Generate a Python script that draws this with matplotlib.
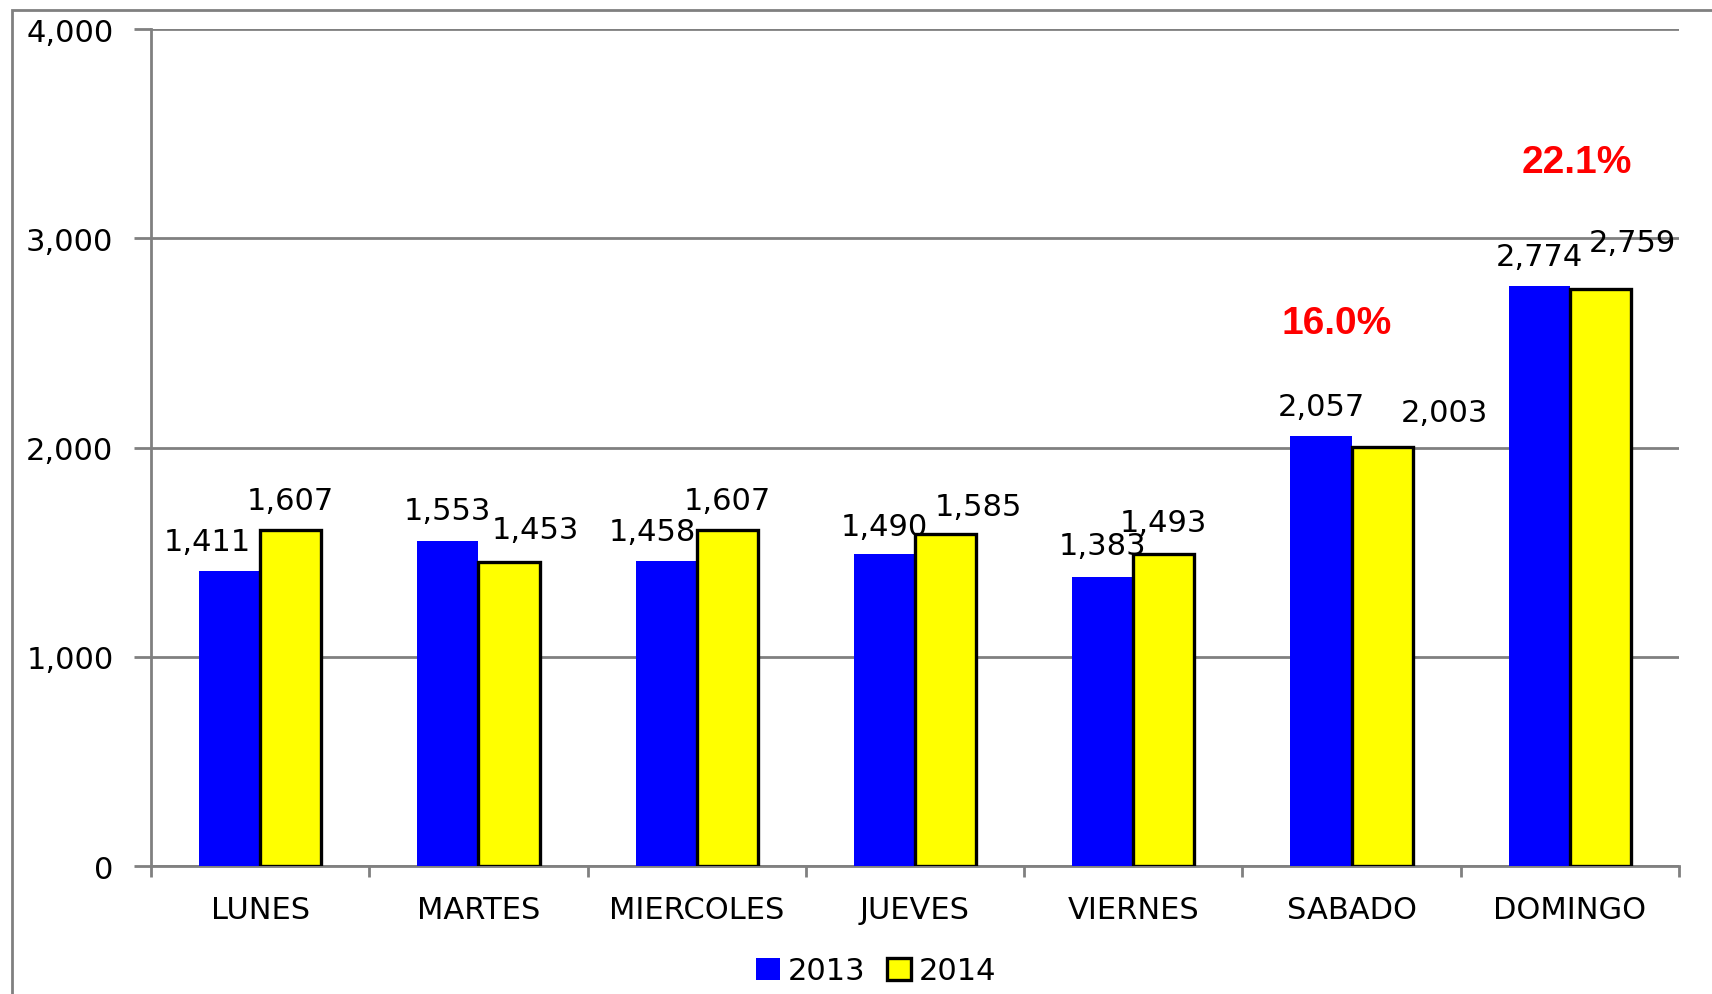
import matplotlib.pyplot as plt
import matplotlib.ticker as mticker
from matplotlib.patches import Rectangle
import numpy as np

days = ['LUNES', 'MARTES', 'MIERCOLES', 'JUEVES', 'VIERNES', 'SABADO', 'DOMINGO']
v2013 = [1411, 1553, 1458, 1490, 1383, 2057, 2774]
v2014 = [1607, 1453, 1607, 1585, 1493, 2003, 2759]
growth_days = ['SABADO', 'DOMINGO']
growth_text = ['16.0%', '22.1%']

# label nudges in points (excel placed some labels off-center)
dx13 = [-16, 0, -10, 0, 0, 0, 0]
dy13 = [15, 16, 15, 14, 16, 15, 15]
dx14 = [0, 19, 0, 24, 0, 45, 23]
dy14 = [15, 17, 15, 14, 16, 19, 27]
# where the red growth labels sit (x shift in categories, y in data units)
growth_dx = [-0.07, 0.03]
growth_y = [2595, 3364]

plt.rcParams['font.family'] = 'DejaVu Sans'
fig = plt.figure(figsize=(17.12, 9.95), dpi=100)
ax = fig.add_axes([0.0882, 0.1286, 0.8925, 0.8412])

x = np.arange(len(days)) + 0.5
w = 0.28
b1 = ax.bar(x - w / 2, v2013, w, color='#0000FF', label='2013', zorder=3)
b2 = ax.bar(x + w / 2, v2014, w, color='#FFFF00', edgecolor='black', linewidth=2.4, label='2014', zorder=3)

for i in range(len(days)):
    ax.annotate(f'{v2013[i]:,}', (x[i] - w / 2, v2013[i]), xytext=(dx13[i], dy13[i]),
                textcoords='offset points', ha='center', va='baseline', fontsize=22)
    ax.annotate(f'{v2014[i]:,}', (x[i] + w / 2, v2014[i]), xytext=(dx14[i], dy14[i]),
                textcoords='offset points', ha='center', va='baseline', fontsize=22)

for d, t, gdx, gy in zip(growth_days, growth_text, growth_dx, growth_y):
    i = days.index(d)
    ax.text(x[i] + gdx, gy, t, color='#FF0000', fontsize=28,
            fontweight='bold', family='Liberation Sans', ha='center', va='center')

ax.set_xlim(0, len(days))
ax.set_ylim(0, 4000)
ax.set_yticks([0, 1000, 2000, 3000, 4000])
ax.yaxis.set_major_formatter(mticker.FuncFormatter(lambda v, p: f'{int(v):,}'))
ax.grid(axis='y', color='#808080', linewidth=2, zorder=0)
ax.set_xticks(x)
ax.set_xticklabels(days)
ax.set_xticks(np.arange(len(days) + 1), minor=True)
ax.tick_params(axis='x', which='major', length=0, pad=21, labelsize=22)
ax.tick_params(axis='x', which='minor', length=8, width=2, color='#808080')
ax.tick_params(axis='y', length=12, width=2, color='#808080', pad=15, labelsize=22)
for s in ['top', 'right']:
    ax.spines[s].set_visible(False)
for s in ['left', 'bottom']:
    ax.spines[s].set_color('#808080')
    ax.spines[s].set_linewidth(2)

ax.legend(loc='center', bbox_to_anchor=(876 / 1712, 1 - 972 / 995), bbox_transform=fig.transFigure,
          ncol=2, frameon=False, fontsize=22, handlelength=0.8, handleheight=0.7,
          handletextpad=0.25, columnspacing=0.7)

fig.patches.append(Rectangle((12 / 1712, -0.1), 1.2, 1.1 - 11 / 995, transform=fig.transFigure,
                             fill=False, edgecolor='#808080', linewidth=2))

fig.savefig('out.png')
